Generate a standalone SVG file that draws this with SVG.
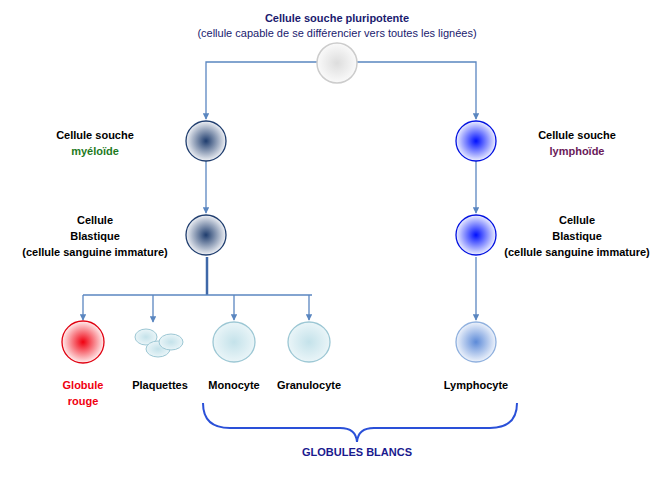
<svg xmlns="http://www.w3.org/2000/svg" width="666" height="500" viewBox="0 0 666 500">
<defs>
<radialGradient id="gw"><stop offset="0" stop-color="#ddd"/><stop offset="1" stop-color="#fafafa"/></radialGradient>
<radialGradient id="gm"><stop offset="0" stop-color="#1f3d6e"/><stop offset="1" stop-color="#f0f2f6"/></radialGradient>
<radialGradient id="gb"><stop offset="0" stop-color="#0010ff"/><stop offset="1" stop-color="#eef0ff"/></radialGradient>
<radialGradient id="gr"><stop offset="0" stop-color="#f00010"/><stop offset="1" stop-color="#ffeeee"/></radialGradient>
<radialGradient id="gc"><stop offset="0" stop-color="#c4e2ea"/><stop offset="1" stop-color="#eaf5f8"/></radialGradient>
<radialGradient id="gl"><stop offset="0" stop-color="#5c8ad8"/><stop offset="1" stop-color="#eef3fb"/></radialGradient>
<marker id="a" viewBox="0 0 10 10" refX="9" refY="5" markerWidth="5" markerHeight="5" orient="auto"><path d="M0,0L10,5L0,10z" fill="#5a86c0"/></marker>
</defs>
<style>
.t{font-family:"Liberation Sans",Arial,sans-serif;font-weight:bold;font-size:11px;text-anchor:middle;fill:#000}
.c{stroke:#5a86c0;stroke-width:1.3;fill:none}
</style>
<g id="connectors">
<path class="c" d="M317,62H206V119" marker-end="url(#a)"/>
<path class="c" d="M357,62H476V119" marker-end="url(#a)"/>
<path class="c" d="M206,161V213" marker-end="url(#a)"/>
<path class="c" d="M476,161V213" marker-end="url(#a)"/>
<path class="c" d="M476,257V320" marker-end="url(#a)"/>
<path d="M207,257V295" stroke="#3f68a8" stroke-width="2.5"/>
<path class="c" d="M83,295H312"/>
<path class="c" d="M83,295V320" marker-end="url(#a)"/>
<path class="c" d="M153,295V322" marker-end="url(#a)"/>
<path class="c" d="M234,295V320" marker-end="url(#a)"/>
<path class="c" d="M309,295V320" marker-end="url(#a)"/>
<path d="M203,403Q203,428 230,428H340Q356,428 357,442Q358,428 374,428H490Q517,428 517,403" fill="none" stroke="#2a50d8" stroke-width="2"/>
</g>
<g id="top"><circle cx="337" cy="63" r="20" fill="url(#gw)" stroke="#ccc" stroke-width="1.5"/>
<text class="t" x="337" y="22" fill="#1a1a6e" style="fill:#1a1a6e">Cellule souche pluripotente</text>
<text class="t" x="337" y="37" style="fill:#1a1a6e;font-weight:normal">(cellule capable de se différencier vers toutes les lignées)</text></g>
<g id="myelo"><circle cx="206" cy="141" r="20" fill="url(#gm)" stroke="#1f3d6e" stroke-width="1.3"/>
<text class="t" x="95" y="139">Cellule souche</text><text class="t" x="95" y="155" style="fill:#1e7a1e">myéloïde</text></g>
<g id="lympho"><circle cx="476" cy="141" r="20" fill="url(#gb)" stroke="#0010e0" stroke-width="1.3"/>
<text class="t" x="577" y="139">Cellule souche</text><text class="t" x="577" y="155" style="fill:#6a1a5a">lymphoïde</text></g>
<g id="blast1"><circle cx="206" cy="235" r="20" fill="url(#gm)" stroke="#1f3d6e" stroke-width="1.3"/>
<text class="t" x="95" y="224">Cellule</text><text class="t" x="95" y="240">Blastique</text><text class="t" x="95" y="256">(cellule sanguine immature)</text></g>
<g id="blast2"><circle cx="476" cy="235" r="20" fill="url(#gb)" stroke="#0010e0" stroke-width="1.3"/>
<text class="t" x="577" y="224">Cellule</text><text class="t" x="577" y="240">Blastique</text><text class="t" x="577" y="256">(cellule sanguine immature)</text></g>
<g id="rouge"><circle cx="83" cy="342" r="21" fill="url(#gr)" stroke="#e00010" stroke-width="1.3"/>
<text class="t" x="83" y="389" style="fill:#f00010">Globule</text><text class="t" x="83" y="405" style="fill:#f00010">rouge</text></g>
<g id="plaq">
<ellipse cx="146" cy="337" rx="11" ry="8" fill="url(#gc)" stroke="#9cc7d4"/>
<ellipse cx="158" cy="349" rx="12" ry="8" fill="url(#gc)" stroke="#9cc7d4"/>
<ellipse cx="171" cy="342" rx="12" ry="8" fill="url(#gc)" stroke="#9cc7d4"/>
<text class="t" x="160" y="389">Plaquettes</text></g>
<g id="mono"><ellipse cx="234" cy="342" rx="21" ry="20" fill="url(#gc)" stroke="#9cc7d4" stroke-width="1.3"/><text class="t" x="234" y="389">Monocyte</text></g>
<g id="granu"><ellipse cx="309" cy="342" rx="21" ry="20" fill="url(#gc)" stroke="#9cc7d4" stroke-width="1.3"/><text class="t" x="309" y="389">Granulocyte</text></g>
<g id="lymphocyte"><circle cx="476" cy="342" r="20" fill="url(#gl)" stroke="#8fb0de" stroke-width="1.3"/><text class="t" x="476" y="389">Lymphocyte</text></g>
<text class="t" x="357" y="456" style="fill:#1a1a8e">GLOBULES BLANCS</text>
</svg>
